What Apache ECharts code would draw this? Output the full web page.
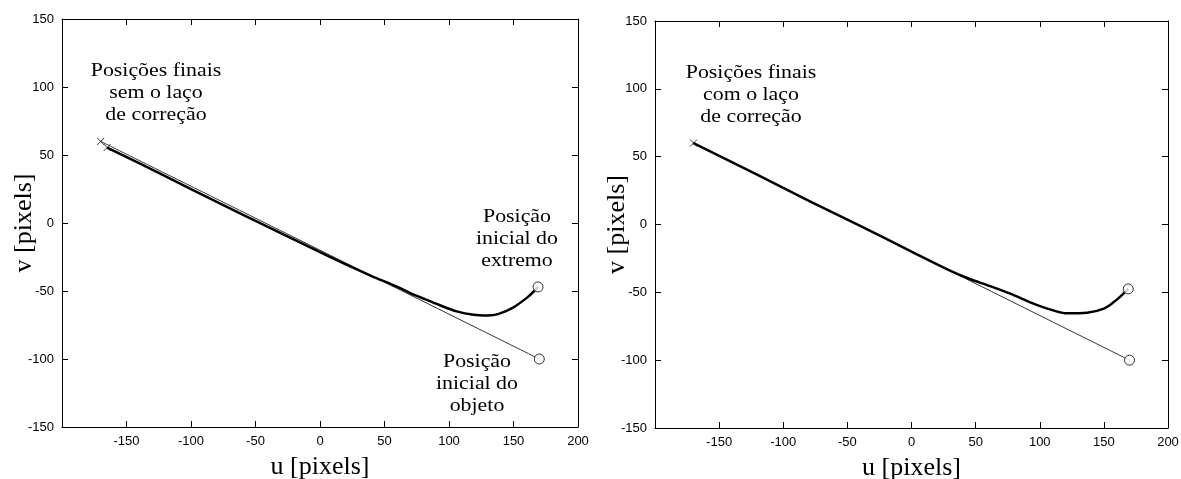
<!DOCTYPE html>
<html lang="pt">
<head>
<meta charset="utf-8">
<title>Posições finais sem e com o laço de correção</title>
<script src="https://cdn.jsdelivr.net/npm/echarts@6/dist/echarts.min.js"></script>
<style>
  html, body { margin: 0; padding: 0; background: #fff; }
  #main { width: 1181px; height: 479px; }
</style>
</head>
<body>
<div id="main"></div>
<script>
// pontos [u, v] em pixels
var objetoSemLaco = [[-170, 60], [170, -100]];
var extremoSemLaco = [
    [-165, 55.5], [-120, 34.5], [-80, 15.5], [-40, -3], [0, -21.5], [20, -30.5],
    [40, -39], [60, -47], [70, -51.5], [80, -55.5], [93, -60.5], [106, -65],
    [119, -67.5], [130, -68], [138, -67], [150, -62], [161, -54.5], [166, -50], [169, -47]
];
var finaisSemLaco = [[-170, 60], [-165, 55.5]];
var iniciaisSemLaco = [[170, -100], [169, -47]];

var objetoComLaco = [[-170, 60], [170, -100]];
var extremoComLaco = [
    [-170, 60], [-120, 36.5], [-80, 17.5], [-40, -1], [0, -20], [30, -34],
    [45, -40], [60, -45], [77, -51], [97, -59], [113, -64], [121, -65.5],
    [137, -65], [150, -62], [158, -57], [163, -53], [169, -47.5]
];
var finaisComLaco = [[-170, 60]];
var iniciaisComLaco = [[170, -100], [169, -47.5]];

var textos = {
    semLaco: 'Posições finais\nsem o laço\nde correção',
    comLaco: 'Posições finais\ncom o laço\nde correção',
    extremo: 'Posição\ninicial do\nextremo',
    objeto: 'Posição\ninicial do\nobjeto'
};

var serif = 'Liberation Serif, Times New Roman, serif';
var sans = 'Liberation Sans, Arial, sans-serif';
var xPath = 'path://M0,0L10,10M10,0L0,10';

var myChart = echarts.init(document.getElementById('main'));

function eixoX(grid, top) {
    return {
        type: 'value', gridIndex: grid, min: -200, max: 200, interval: 50,
        position: top ? 'top' : 'bottom',
        name: top ? '' : 'u [pixels]', nameLocation: 'middle', nameGap: 27,
        nameMoveOverlap: false,
        nameTextStyle: { fontFamily: serif, fontSize: 26, color: '#000' },
        axisLine: { onZero: false, lineStyle: { color: '#000', width: 1 } },
        axisTick: { show: true, inside: true, length: 6, lineStyle: { color: '#000' } },
        axisLabel: { show: !top, showMinLabel: false, color: '#000', fontFamily: sans, fontSize: 13, margin: 8 },
        splitLine: { show: false }
    };
}

function eixoY(grid, right) {
    return {
        type: 'value', gridIndex: grid, min: -150, max: 150, interval: 50,
        position: right ? 'right' : 'left',
        name: right ? '' : 'v [pixels]', nameLocation: 'middle', nameGap: 25,
        nameMoveOverlap: false,
        nameTextStyle: { fontFamily: serif, fontSize: 26, color: '#000' },
        axisLine: { onZero: false, lineStyle: { color: '#000', width: 1 } },
        axisTick: { show: true, inside: true, length: 6, lineStyle: { color: '#000' } },
        axisLabel: { show: !right, color: '#000', fontFamily: sans, fontSize: 13, margin: 8 },
        splitLine: { show: false }
    };
}

function linha(grid, dados, largura, cor) {
    return {
        type: 'line', xAxisIndex: grid * 2, yAxisIndex: grid * 2, data: dados,
        showSymbol: false, smooth: 0.3, silent: true,
        lineStyle: { color: cor, width: largura }, z: 2
    };
}

function marcas(grid, dados, simbolo, tam) {
    return {
        type: 'scatter', xAxisIndex: grid * 2, yAxisIndex: grid * 2, data: dados,
        symbol: simbolo, symbolSize: tam, silent: true, z: 3,
        itemStyle: { color: simbolo === 'circle' ? '#fff' : 'none', borderColor: '#000', borderWidth: 1 }
    };
}

// texto de anotação, centrado em x, um pouco alargado como no original
function texto(x, y, t) {
    return {
        type: 'text', x: x, y: y, scaleX: 1.15,
        style: {
            text: t, x: 0, y: 0, font: '19px ' + serif, fill: '#000',
            textAlign: 'center', textVerticalAlign: 'top', lineHeight: 22
        }
    };
}

option = {
    backgroundColor: '#fff',
    animation: false,
    grid: [
        { left: 62, top: 19, width: 516, height: 408, outerBoundsMode: 'none' },
        { left: 655, top: 21, width: 513, height: 407, outerBoundsMode: 'none' }
    ],
    xAxis: [eixoX(0, false), eixoX(0, true), eixoX(1, false), eixoX(1, true)],
    yAxis: [eixoY(0, false), eixoY(0, true), eixoY(1, false), eixoY(1, true)],
    series: [
        linha(0, objetoSemLaco, 1, '#333'),
        linha(0, extremoSemLaco, 2.5, '#000'),
        marcas(0, finaisSemLaco, xPath, 7),
        marcas(0, iniciaisSemLaco, 'circle', 10),
        linha(1, objetoComLaco, 1, '#333'),
        linha(1, extremoComLaco, 2.5, '#000'),
        marcas(1, finaisComLaco, xPath, 7),
        marcas(1, iniciaisComLaco, 'circle', 10)
    ],
    graphic: [
        texto(156, 60, textos.semLaco),
        texto(517, 206, textos.extremo),
        texto(477, 351, textos.objeto),
        texto(751, 62, textos.comLaco)
    ]
};

myChart.setOption(option);
</script>
</body>
</html>
